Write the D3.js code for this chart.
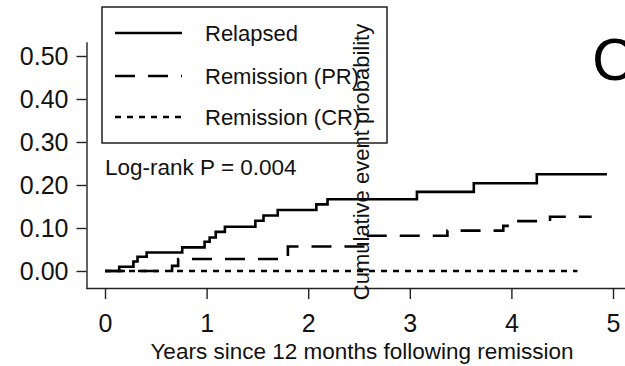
<!DOCTYPE html>
<html><head><meta charset="utf-8">
<script src="https://cdn.jsdelivr.net/npm/d3@7"></script>
<style>html,body{margin:0;padding:0;background:#fff;} svg{display:block;font-family:"Liberation Sans",Arial,sans-serif;}</style>
</head><body>
<svg id="c" width="625" height="366"></svg>
<script>
// ---- data ----
const relapsedTimes = [0, 0.14, 0.28, 0.32, 0.41, 0.76, 0.98, 1.03, 1.09, 1.18, 1.48, 1.56, 1.70, 2.08, 2.19, 3.07, 3.63, 4.25, 4.94];
const relapsedVals  = [0, 0.010, 0.022, 0.033, 0.043, 0.055, 0.068, 0.078, 0.091, 0.103, 0.117, 0.129, 0.142, 0.155, 0.167, 0.184, 0.204, 0.225, 0.225];
const prTimes = [0, 0.66, 0.72, 1.80, 2.59, 3.37, 3.92, 4.02, 4.38, 4.79];
const prVals  = [0, 0.012, 0.028, 0.057, 0.082, 0.094, 0.105, 0.116, 0.126, 0.126];
const crTimes = [0, 4.65];
const crVals  = [0, 0];
const seriesNames = ["Relapsed", "Remission (PR)", "Remission (CR)"];
const xTicks = [0, 1, 2, 3, 4, 5];
const yTicks = [0, 0.1, 0.2, 0.3, 0.4, 0.5];
const xTitle = "Years since 12 months following remission";
const yTitle = "Cumulative event probability";
const pText = "Log-rank P = 0.004";
const panelLetter = "C";

// ---- drawing ----
const svg = d3.select("#c");
const x = d3.scaleLinear().domain([-0.19, 5.12]).range([85.7, 625.2]);
const y = d3.scaleLinear().domain([-0.04, 0.533]).range([288.2, 41.8]);
const axisColor = "#222";

const gx = svg.append("g").attr("transform", "translate(0,288)")
  .call(d3.axisBottom(x).tickValues(xTicks).tickFormat(d3.format("d")).tickSizeOuter(0).tickSizeInner(11).tickPadding(6));
const gy = svg.append("g").attr("transform", "translate(86.5,0)")
  .call(d3.axisLeft(y).tickValues(yTicks).tickFormat(d3.format(".2f")).tickSizeOuter(0).tickSizeInner(10).tickPadding(8));
[gx, gy].forEach(g => {
  g.selectAll("path.domain").attr("stroke", axisColor).attr("stroke-width", 1.4);
  g.selectAll(".tick line").attr("stroke", axisColor).attr("stroke-width", 1.4);
  g.selectAll(".tick text").attr("fill", "#111").style("font-size", "25px").style("font-family", '"Liberation Sans",Arial,sans-serif');
});
gx.selectAll(".tick text").attr("dy", "1.08em");
gy.selectAll(".tick text").attr("dy", "0.36em");

const styles = [
  {dash: null},
  {dash: "20,13"},
  {dash: "6,6"}
];
const seriesData = [
  relapsedTimes.map((t, i) => [t, relapsedVals[i]]),
  prTimes.map((t, i) => [t, prVals[i]]),
  crTimes.map((t, i) => [t, crVals[i]])
];
const line = d3.line().x(d => x(d[0])).y(d => y(d[1])).curve(d3.curveStepAfter);
seriesData.forEach((d, i) => {
  svg.append("path").attr("d", line(d)).attr("fill", "none").attr("stroke", "#000")
    .attr("stroke-width", 2.6).attr("stroke-dasharray", styles[i].dash);
});

// legend
svg.append("rect").attr("x", 102).attr("y", 7).attr("width", 285).attr("height", 136)
  .attr("fill", "none").attr("stroke", "#111").attr("stroke-width", 1.4);
const legY = [33, 76, 117];
seriesNames.forEach((n, i) => {
  svg.append("line").attr("x1", 115).attr("x2", 182).attr("y1", legY[i]).attr("y2", legY[i])
    .attr("stroke", "#000").attr("stroke-width", 2.6).attr("stroke-dasharray", styles[i].dash);
  svg.append("text").attr("x", 205).attr("y", legY[i] + 8).text(n)
    .style("font-size", "22px").attr("fill", "#111");
});

svg.append("text").attr("x", 105).attr("y", 175).text(pText).style("font-size", "22.5px").attr("fill", "#111");

svg.append("text").attr("x", 362).attr("y", 359).attr("text-anchor", "middle").text(xTitle)
  .style("font-size", "22.5px").attr("fill", "#111");

svg.append("text").attr("transform", "translate(369,162) rotate(-90)").attr("text-anchor", "middle")
  .text(yTitle).style("font-size", "22px").attr("fill", "#111");

svg.append("text").attr("x", 592).attr("y", 80).text(panelLetter).style("font-size", "60px").attr("fill", "#000");
</script>
</body></html>
